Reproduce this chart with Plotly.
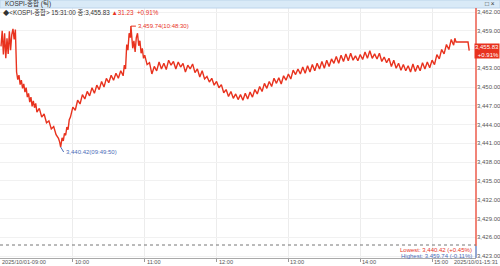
import plotly.graph_objects as go

DAY = "2025-10-01 "

times = [
    "09:00", "09:01", "09:02", "09:03", "09:04", "09:05", "09:06", "09:07", "09:08", "09:09",
    "09:10", "09:11", "09:12", "09:13", "09:14", "09:15", "09:16", "09:17", "09:18", "09:19",
    "09:20", "09:21", "09:22", "09:23", "09:24", "09:25", "09:26", "09:27", "09:28", "09:29",
    "09:30", "09:32", "09:34", "09:36", "09:38", "09:40", "09:42", "09:44", "09:46", "09:48",
    "09:49", "09:49:50", "09:51", "09:52", "09:53", "09:54", "09:55", "09:56", "09:57", "09:58",
    "10:00", "10:02", "10:04", "10:06", "10:08", "10:10", "10:12", "10:14", "10:16", "10:18",
    "10:20", "10:22", "10:24", "10:26", "10:28", "10:30", "10:32", "10:34", "10:36", "10:38",
    "10:40", "10:42", "10:43", "10:44", "10:45", "10:46", "10:47", "10:48", "10:48:30", "10:49",
    "10:50", "10:51", "10:52", "10:53", "10:54", "10:55", "10:56", "10:57", "10:58", "10:59",
    "11:00", "11:02", "11:04", "11:06", "11:08", "11:10", "11:12", "11:14", "11:16", "11:18",
    "11:20", "11:22", "11:24", "11:26", "11:28", "11:30", "11:32", "11:34", "11:36", "11:38",
    "11:40", "11:42", "11:44", "11:46", "11:48", "11:50", "11:52", "11:54", "11:56", "11:58",
    "12:00", "12:02", "12:04", "12:06", "12:08", "12:10", "12:12", "12:14", "12:16", "12:18",
    "12:20", "12:22", "12:24", "12:26", "12:28", "12:30", "12:32", "12:34", "12:36", "12:38",
    "12:40", "12:42", "12:44", "12:46", "12:48", "12:50", "12:52", "12:54", "12:56", "12:58",
    "13:00", "13:02", "13:04", "13:06", "13:08", "13:10", "13:12", "13:14", "13:16", "13:18",
    "13:20", "13:22", "13:24", "13:26", "13:28", "13:30", "13:32", "13:34", "13:36", "13:38",
    "13:40", "13:42", "13:44", "13:46", "13:48", "13:50", "13:52", "13:54", "13:56", "13:58",
    "14:00", "14:02", "14:04", "14:06", "14:08", "14:10", "14:12", "14:14", "14:16", "14:18",
    "14:20", "14:22", "14:24", "14:26", "14:28", "14:30", "14:32", "14:34", "14:36", "14:38",
    "14:40", "14:42", "14:44", "14:46", "14:48", "14:50", "14:52", "14:54", "14:56", "14:58",
    "15:00", "15:02", "15:04", "15:06", "15:08", "15:10", "15:12", "15:14", "15:16", "15:18",
    "15:19", "15:20", "15:30", "15:31",
]

prices = [
    3456.5, 3459.0, 3455.2, 3458.6, 3454.6, 3457.8, 3455.3, 3458.9, 3455.9, 3458.4,
    3459.3, 3457.6, 3459.2, 3452.4, 3451.2, 3451.9, 3450.4, 3451.1, 3449.8, 3450.5,
    3449.2, 3449.9, 3448.4, 3449.0, 3447.6, 3448.4, 3446.9, 3447.8, 3446.7, 3447.4,
    3446.0, 3446.6, 3445.2, 3445.7, 3444.3, 3444.6, 3443.3, 3443.7, 3442.4, 3441.8,
    3441.2, 3440.42, 3441.9, 3441.4, 3442.6, 3442.3, 3443.6, 3443.2, 3444.8, 3445.2,
    3446.8, 3446.3, 3447.9, 3447.3, 3448.8, 3448.1, 3449.3, 3448.6, 3449.9, 3449.0,
    3450.3, 3449.6, 3450.9, 3450.0, 3451.4, 3450.7, 3451.9, 3451.1, 3452.2, 3451.4,
    3452.6, 3451.8, 3453.5, 3452.9, 3456.8, 3455.9, 3458.6, 3457.9, 3459.74, 3458.3,
    3456.2, 3457.4, 3455.6, 3457.9, 3458.6, 3456.6, 3457.4, 3455.4, 3456.2, 3454.6,
    3455.1, 3453.6, 3453.9, 3452.1, 3453.3, 3452.6, 3454.0, 3452.9, 3453.8, 3452.8,
    3454.3, 3453.5, 3454.1, 3452.9, 3454.0, 3453.2, 3453.8, 3452.4, 3453.5, 3452.9,
    3453.7, 3452.3, 3452.9, 3451.6, 3452.6, 3451.3, 3451.7, 3450.8, 3451.4, 3450.3,
    3450.9, 3449.9, 3450.4, 3449.1, 3449.6, 3448.5, 3449.3, 3448.2, 3448.9, 3448.0,
    3448.8, 3447.9, 3449.0, 3448.1, 3449.2, 3448.4, 3449.6, 3448.9, 3450.1, 3449.3,
    3450.6, 3449.8, 3450.9, 3450.1, 3451.4, 3450.6, 3451.5, 3450.5, 3451.8, 3451.1,
    3452.1, 3451.3, 3452.7, 3452.0, 3452.9, 3452.1, 3453.2, 3452.2, 3453.4, 3452.4,
    3453.6, 3452.6, 3453.8, 3452.9, 3454.1, 3453.0, 3454.3, 3453.3, 3454.5, 3453.8,
    3454.9, 3453.8, 3455.1, 3454.1, 3455.3, 3454.2, 3455.4, 3454.3, 3455.0, 3454.2,
    3455.2, 3454.4, 3455.6, 3454.6, 3455.8, 3454.6, 3455.3, 3454.5, 3455.4, 3454.1,
    3454.8, 3453.9, 3454.6, 3453.3, 3454.3, 3453.0, 3453.8, 3452.7, 3453.6, 3452.6,
    3453.4, 3452.4, 3453.7, 3452.5, 3453.5, 3452.6, 3453.9, 3452.9, 3454.0, 3453.1,
    3454.3, 3453.6, 3455.2, 3454.5, 3456.0, 3455.3, 3456.8, 3456.0, 3457.6, 3456.7,
    3457.8, 3457.2, 3457.2, 3455.83,
]

y_ticks = [3423, 3426, 3429, 3432, 3435, 3438, 3441, 3444, 3447, 3450, 3453, 3456, 3459, 3462]
hidden_tick = 3456  # covered by the current-price box in the reference
hour_ticks = ["10:00", "11:00", "12:00", "13:00", "14:00", "15:00"]
first_label = "2025/10/01-09:00"
last_label = "2025/10/01-15:31"

title_text = "KOSPI-종합 (틱)"
info_text = "◆&lt;KOSPI-종합&gt; 15:31:00 종:3,455.83"
change_text = "▲31.23  +0.91%"
close_price = 3455.83
close_pct = "+0.91%"
high_price, high_time = 3459.74, "10:48:30"
low_price, low_time = 3440.42, "09:49:50"
lowest_text = "Lowest: 3,440.42 (+0.45%)"
highest_text = "Highest: 3,459.74 (-0.11%)"

RED = "#e8321e"
BLUE = "#4a6db8"
FONT = "Liberation Sans, Noto Sans CJK KR, sans-serif"

W, H = 500, 266
ML, MR, MT, MB = 0, 24, 8, 8
PW, PH = W - ML - MR, H - MT - MB


def px(xp):
    return (xp - ML) / PW


def py(yp):
    return (H - MB - yp) / PH


x_vals = [DAY + t for t in times]

fig = go.Figure()
fig.add_trace(go.Scatter(
    x=x_vals, y=prices, mode="lines",
    line=dict(color=RED, width=1.4), hoverinfo="skip", showlegend=False,
))

fig.update_layout(
    width=W, height=H,
    margin=dict(l=ML, r=MR, t=MT, b=MB),
    paper_bgcolor="white", plot_bgcolor="white",
    font=dict(family=FONT, size=6, color="#555"),
    xaxis=dict(
        type="date",
        range=[DAY + "08:59:10", DAY + "15:36:40"],
        tickvals=[DAY + t for t in hour_ticks],
        showticklabels=False,
        ticks="outside", ticklen=3, tickcolor="#999",
        showgrid=True, gridcolor="#ececec", gridwidth=1,
        showline=True, linecolor="#aaa", linewidth=1,
        zeroline=False, fixedrange=True,
    ),
    yaxis=dict(
        side="right",
        range=[3422.68, 3462.64],
        tickvals=y_ticks,
        ticktext=["" if v == hidden_tick else f"{v:,.2f}" for v in y_ticks],
        tickfont=dict(size=6, color="#555"),
        showgrid=True, gridcolor="#f1f1f1", gridwidth=1,
        showline=False, zeroline=False, ticks="", fixedrange=True,
    ),
)

shapes = [
    # title bar
    dict(type="rect", xref="paper", yref="paper", x0=px(0), x1=px(W), y0=py(8), y1=py(0),
         fillcolor="#d9eaf7", line=dict(color="#bcd4ea", width=1), layer="above"),
    # right price axis line (red) + blue lower segment
    dict(type="line", xref="paper", yref="paper", x0=1, x1=1, y0=py(246), y1=1,
         line=dict(color=RED, width=1.2)),
    dict(type="line", xref="paper", yref="paper", x0=1, x1=1, y0=0, y1=py(246),
         line=dict(color=BLUE, width=1.2)),
    # dotted separator
    dict(type="line", xref="paper", yref="paper", x0=0, x1=1, y0=py(245), y1=py(245),
         line=dict(color="#777", width=1, dash="dot")),
]

annotations = [
    dict(text=title_text, xref="paper", yref="paper", x=px(3), y=py(4), xanchor="left",
         yanchor="middle", showarrow=False, font=dict(size=6.5, color="#333")),
    dict(text="□ ×", xref="paper", yref="paper", x=px(497), y=py(4), xanchor="right",
         yanchor="middle", showarrow=False, font=dict(size=6.5, color="#333")),
    dict(text=info_text + f" <span style='color:{RED}'>{change_text}</span>",
         xref="paper", yref="paper", x=px(1), y=py(12), xanchor="left", yanchor="middle",
         showarrow=False, font=dict(size=6.3, color="#333")),
    # current price box
    dict(text=f"{close_price:,.2f}<br>{close_pct}", xref="paper", yref="y",
         x=px(W), y=close_price, xanchor="right", yanchor="middle", showarrow=False,
         bgcolor=RED, borderpad=0, align="right", font=dict(size=6, color="white")),
    # high / low markers
    dict(text=f"{high_price:,.2f}({high_time})", x=DAY + high_time, y=high_price,
         xref="x", yref="y", showarrow=True, arrowhead=0, arrowwidth=1, arrowcolor=RED,
         ax=5, ay=0, xanchor="left", yanchor="middle", font=dict(size=6, color=RED)),
    dict(text=f"{low_price:,.2f}({low_time})", x=DAY + low_time, y=low_price,
         xref="x", yref="y", showarrow=True, arrowhead=0, arrowwidth=1, arrowcolor=BLUE,
         ax=3, ay=5, xanchor="left", yanchor="middle", font=dict(size=6, color=BLUE)),
    # lowest / highest summary
    dict(text=lowest_text, xref="paper", yref="paper", x=px(474), y=py(250),
         xanchor="right", yanchor="middle", showarrow=False, font=dict(size=6, color=RED)),
    dict(text=highest_text, xref="paper", yref="paper", x=px(474), y=py(255.5),
         xanchor="right", yanchor="middle", showarrow=False, font=dict(size=6, color=BLUE)),
    # x labels
    dict(text=first_label, xref="paper", yref="paper", x=px(0), y=py(262),
         xanchor="left", yanchor="middle", showarrow=False, font=dict(size=5.6, color="#555")),
    dict(text=last_label, xref="paper", yref="paper", x=px(W), y=py(262),
         xanchor="right", yanchor="middle", showarrow=False, font=dict(size=5.6, color="#555")),
]
for t in hour_ticks:
    annotations.append(dict(text=t, x=DAY + t, xref="x", yref="paper", y=py(262),
                            xanchor="left", yanchor="middle", showarrow=False,
                            font=dict(size=5.6, color="#555")))

fig.update_layout(shapes=shapes, annotations=annotations)
fig.write_html("out.html")
